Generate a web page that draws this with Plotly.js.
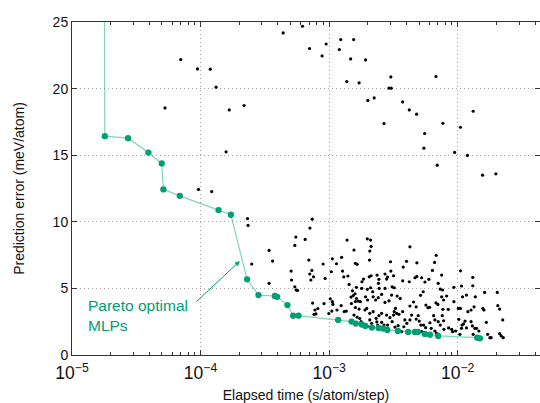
<!DOCTYPE html>
<html><head><meta charset="utf-8">
<script src="https://cdn.plot.ly/plotly-3.0.1.min.js"></script>
<style>html,body{margin:0;padding:0;background:#fff}</style>
</head><body><div id="chart" style="width:540px;height:403px"></div>
<script>
// Pareto optimal MLPs (first point lies above the plotted range)
const paretoTime = [1.77e-5, 1.80e-5, 2.73e-5, 3.93e-5, 4.99e-5, 5.14e-5, 6.89e-5, 1.38e-4, 1.72e-4, 2.30e-4, 2.82e-4,
  3.78e-4, 3.94e-4, 4.74e-4, 5.25e-4, 5.78e-4, 1.175e-3, 1.494e-3, 1.613e-3, 1.797e-3, 1.913e-3, 2.149e-3, 2.424e-3,
  2.632e-3, 2.837e-3, 3.423e-3, 4.119e-3, 4.644e-3, 4.90e-3, 5.55e-3, 6.08e-3, 7.05e-3, 1.418e-2, 1.489e-2];
const paretoError = [40, 16.43, 16.28, 15.2, 14.38, 12.43, 11.95, 10.88, 10.53, 5.68, 4.50,
  4.43, 4.37, 3.75, 2.95, 2.95, 2.63, 2.51, 2.36, 2.29, 2.18, 2.06, 2.03,
  1.99, 1.88, 1.80, 1.73, 1.73, 1.73, 1.58, 1.52, 1.43, 1.30, 1.25];

// Other MLPs, high-error group
const upperTime = [7.01e-5, 9.46e-5, 1.19e-4, 1.32e-4, 5.29e-5, 1.67e-4, 2.18e-4, 1.58e-4, 9.63e-5, 1.22e-4,
  4.39e-4, 6.21e-4, 7.04e-4, 8.82e-4, 9.48e-4, 1.23e-3, 1.55e-3, 1.20e-3, 1.47e-3, 1.92e-3,
  1.37e-3, 1.71e-3, 3.02e-3, 6.77e-3, 2.92e-3, 3.04e-3, 2.00e-3, 2.24e-3, 3.73e-3, 4.20e-3,
  4.79e-3, 2.67e-3, 7.67e-3, 1.32e-2, 5.53e-3, 1.05e-2, 5.46e-3, 9.46e-3, 1.19e-2, 6.93e-3,
  1.56e-2, 1.98e-2];
const upperError = [22.18, 21.48, 21.46, 20.11, 18.55, 18.40, 18.73, 15.25, 12.43, 12.27,
  24.18, 24.68, 23.01, 22.45, 23.35, 23.68, 23.68, 22.93, 22.23, 22.15,
  20.53, 20.43, 20.88, 20.91, 20.03, 20.03, 19.11, 19.30, 19.00, 18.40,
  18.08, 17.38, 17.40, 18.30, 16.63, 17.10, 15.53, 15.21, 14.98, 14.25,
  13.50, 13.60];

// Other MLPs, low-error group
const lowerTime = [
  2.32e-4, 2.34e-4, 2.50e-4, 3.41e-4, 3.63e-4, 3.41e-4,
  7.38e-4, 7.09e-4, 5.51e-4, 5.41e-4, 6.51e-4, 6.95e-4, 5.06e-4, 5.10e-4, 7.34e-4, 7.07e-4,
  7.56e-4, 7.21e-4, 8.98e-4, 9.31e-4, 1.06e-3, 1.14e-3, 1.25e-3, 1.38e-3, 1.56e-3, 1.60e-3,
  1.65e-3, 1.04e-3, 1.27e-3, 1.30e-3, 1.40e-3, 1.43e-3, 5.41e-4, 5.54e-4, 5.68e-4, 9.13e-4,
  1.02e-3, 1.06e-3, 1.07e-3, 7.44e-4, 7.76e-4, 7.63e-4, 7.89e-4, 8.17e-4, 9.95e-4, 1.05e-3,
  1.15e-3, 1.24e-3, 1.31e-3, 1.36e-3, 1.48e-3, 1.54e-3, 1.63e-3, 1.60e-3, 1.49e-3, 1.60e-3,
  1.56e-3, 1.65e-3, 1.73e-3, 1.77e-3, 1.86e-3, 1.52e-3, 1.59e-3,
  1.98e-3, 2.10e-3, 2.12e-3, 2.07e-3, 2.06e-3, 3.00e-3, 3.77e-3, 4.00e-3, 4.25e-3, 4.81e-3,
  6.61e-3, 6.36e-3, 6.80e-3, 7.50e-3, 1.80e-3, 1.85e-3, 2.05e-3, 2.12e-3, 2.36e-3, 2.44e-3,
  2.42e-3, 2.72e-3, 2.80e-3, 2.85e-3, 3.17e-3, 3.02e-3, 3.73e-3, 4.20e-3, 4.65e-3, 4.81e-3,
  5.24e-3, 5.56e-3, 5.97e-3, 7.05e-3, 7.31e-3, 7.63e-3, 1.63e-3, 1.79e-3, 1.98e-3, 2.10e-3,
  2.18e-3, 2.45e-3, 2.72e-3, 3.09e-3, 3.21e-3, 3.06e-3, 3.38e-3, 3.57e-3, 1.68e-3, 1.75e-3,
  1.92e-3, 1.99e-3, 2.20e-3, 2.30e-3, 2.41e-3, 2.56e-3, 2.72e-3, 2.92e-3, 4.25e-3, 4.54e-3,
  4.75e-3, 5.14e-3, 5.39e-3, 5.66e-3, 5.87e-3, 6.05e-3, 6.77e-3, 7.01e-3, 7.50e-3, 7.77e-3,
  1.71e-3, 1.96e-3, 2.07e-3, 2.20e-3, 2.32e-3, 2.44e-3, 2.56e-3, 2.80e-3, 2.97e-3, 3.17e-3,
  3.21e-3, 3.35e-3, 3.49e-3, 3.73e-3, 3.88e-3, 4.02e-3, 4.25e-3, 4.38e-3, 4.75e-3, 4.93e-3,
  5.02e-3, 5.17e-3, 5.43e-3, 5.63e-3, 6.08e-3, 6.22e-3, 6.50e-3, 6.65e-3, 7.05e-3, 7.31e-3,
  7.58e-3, 2.07e-3, 2.14e-3, 2.56e-3, 2.67e-3, 2.85e-3, 3.09e-3, 3.25e-3, 3.44e-3, 3.66e-3,
  3.81e-3, 4.59e-3, 4.96e-3, 5.24e-3, 6.65e-3, 6.85e-3, 1.98e-3, 2.35e-3, 2.39e-3, 3.28e-3,
  1.90e-3,
  8.20e-3, 9.34e-3, 1.05e-2, 1.07e-2, 1.31e-2, 1.31e-2, 1.17e-2, 1.09e-2, 1.37e-2, 1.62e-2,
  2.03e-2, 9.34e-3, 7.67e-3, 8.44e-3, 1.01e-2, 1.05e-2, 1.20e-2, 1.27e-2, 1.34e-2, 1.57e-2,
  1.60e-2, 2.05e-2, 2.12e-2, 7.77e-3, 7.81e-3, 8.49e-3, 8.97e-3, 9.13e-3, 9.63e-3, 1.02e-2,
  1.08e-2, 1.11e-2, 1.14e-2, 1.17e-2, 1.27e-2, 1.30e-2, 1.32e-2, 1.36e-2, 1.40e-2, 1.46e-2,
  1.67e-2, 1.71e-2, 1.78e-2, 1.82e-2, 2.24e-2, 2.12e-2, 2.18e-2, 2.26e-2, 1.04e-2, 1.07e-2];
const lowerError = [
  10.24, 9.73, 6.83, 7.85, 7.05, 5.38,
  10.20, 9.53, 8.85, 8.23, 8.68, 7.13, 6.30, 5.63, 6.35, 6.08,
  5.87, 5.63, 6.83, 5.75, 7.22, 6.85, 7.33, 8.63, 7.88, 6.88,
  6.81, 6.25, 6.30, 5.87, 5.93, 5.30, 5.12, 4.88, 4.85, 3.86,
  4.22, 4.00, 3.80, 3.90, 3.38, 3.05, 3.08, 3.49, 3.11, 3.30,
  3.38, 3.71, 3.26, 3.30, 4.35, 4.46, 4.24, 4.01, 3.86, 3.56,
  3.00, 2.85, 2.74, 2.50, 2.30, 4.82, 4.60,
  8.72, 8.63, 8.15, 7.80, 7.13, 7.00, 6.60, 7.03, 8.12, 6.92,
  6.95, 6.35, 7.48, 6.00, 5.50, 5.70, 5.87, 5.95, 6.00, 5.68,
  5.38, 6.08, 5.70, 5.85, 5.95, 6.30, 5.57, 5.50, 5.80, 5.90,
  5.80, 5.48, 5.68, 5.38, 4.95, 4.88, 5.08, 5.00, 4.93, 5.05,
  4.75, 5.00, 5.00, 5.12, 5.05, 4.50, 4.43, 4.25, 4.05, 4.00,
  4.37, 4.13, 4.37, 4.13, 4.30, 4.55, 3.95, 4.07, 3.68, 3.98,
  3.62, 4.48, 4.75, 3.75, 3.55, 3.58, 3.92, 3.80, 4.37, 4.13,
  3.45, 3.50, 3.13, 3.25, 2.75, 2.95, 3.13, 3.00, 2.80, 3.00,
  3.25, 3.13, 3.05, 3.25, 2.63, 2.38, 2.63, 3.00, 2.70, 2.95,
  2.55, 2.25, 2.25, 2.05, 2.42, 2.00, 2.95, 2.63, 2.50, 2.25,
  2.95, 2.63, 2.38, 2.45, 2.25, 2.25, 2.50, 2.10, 2.20, 1.75,
  2.12, 1.76, 1.75, 1.75, 1.80, 1.63, 2.14, 2.48, 2.25, 3.50,
  3.38,
  4.43, 5.08, 6.32, 5.18, 5.83, 5.20, 4.50, 4.37, 4.37, 4.70,
  4.70, 4.00, 3.43, 3.43, 3.50, 3.50, 3.25, 3.38, 3.62, 3.50,
  3.38, 3.70, 3.45, 2.57, 1.93, 2.03, 1.93, 1.75, 1.80, 2.68,
  2.25, 2.33, 2.55, 2.03, 2.50, 2.18, 1.55, 2.00, 2.00, 1.80,
  2.45, 1.55, 1.30, 1.30, 2.63, 1.60, 1.43, 1.30, 1.55, 2.00];

const otherTime = upperTime.concat(lowerTime);
const otherError = upperError.concat(lowerError);

const green = '#009e73';
const font = 'Liberation Sans, Arial, Helvetica, sans-serif';

const traces = [
  {type: 'scatter', mode: 'markers', x: otherTime, y: otherError,
   marker: {color: '#000', size: 3.2}, hoverinfo: 'skip', showlegend: false},
  {type: 'scatter', mode: 'lines+markers', x: paretoTime, y: paretoError,
   line: {color: 'rgba(0,170,120,0.5)', width: 1.2},
   marker: {color: green, size: 6.3}, showlegend: false}
];

const axisCommon = {
  showline: true, linecolor: '#333', linewidth: 1, mirror: 'ticks',
  ticks: 'inside', ticklen: 5, tickcolor: '#333', tickwidth: 1,
  showgrid: true, gridcolor: '#a8a8a8', griddash: '1px,3px', gridwidth: 1,
  zeroline: false, tickfont: {family: font, size: 14, color: '#111'}
};

const layout = {
  width: 540, height: 403,
  margin: {l: 72, r: 0, t: 22, b: 48},
  paper_bgcolor: '#fff', plot_bgcolor: '#fff',
  font: {family: font, color: '#111'},
  xaxis: Object.assign({}, axisCommon, {
    type: 'log', range: [-5, -1.36], dtick: 1, exponentformat: 'power',
    ticklabelstandoff: 3,
    minor: {ticks: 'inside', ticklen: 3, tickcolor: '#333', showgrid: false},
    title: {text: 'Elapsed time (s/atom/step)', font: {family: font, size: 14, color: '#111'}, standoff: 9}
  }),
  yaxis: Object.assign({}, axisCommon, {
    range: [0, 25], dtick: 5,
    title: {text: 'Prediction error (meV/atom)', font: {family: font, size: 14, color: '#111'}, standoff: 24}
  }),
  annotations: [
    {xref: 'x', yref: 'y', x: Math.log10(2.02e-4), y: 7.05, ax: -45, ay: 42, showarrow: true,
     arrowhead: 2, arrowsize: 1, arrowwidth: 1, arrowcolor: green, text: ''},
    {xref: 'x', yref: 'y', x: Math.log10(1.277e-5), y: 2.95, xanchor: 'left', yanchor: 'middle',
     align: 'left', showarrow: false, text: 'Pareto optimal<br>MLPs',
     font: {family: font, size: 15.5, color: green}}
  ]
};

Plotly.newPlot('chart', traces, layout, {displayModeBar: false, staticPlot: true});
</script>
</body></html>
